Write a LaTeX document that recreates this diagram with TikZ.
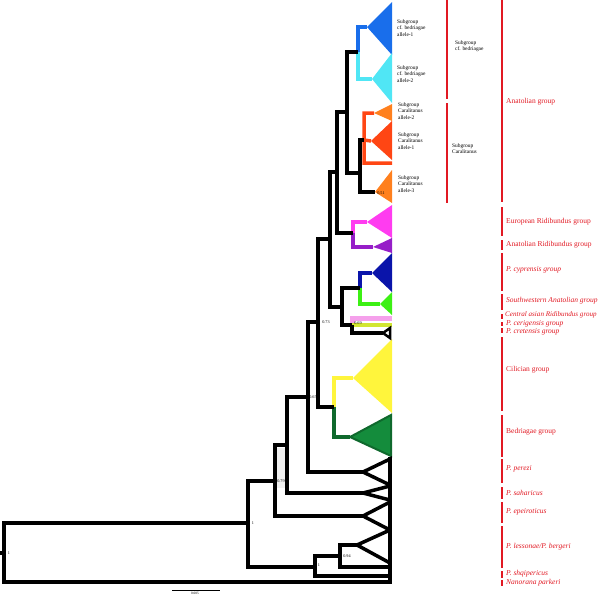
\documentclass[tikz,border=0pt]{standalone}
\usepackage{fontspec}
\setmainfont{Liberation Serif}
\definecolor{cblue}{RGB}{25,110,235}
\definecolor{ccyan}{RGB}{80,230,245}
\definecolor{corange}{RGB}{255,128,30}
\definecolor{cred}{RGB}{255,70,20}
\definecolor{cmag}{RGB}{255,60,240}
\definecolor{cpur}{RGB}{150,30,200}
\definecolor{cnavy}{RGB}{10,20,170}
\definecolor{cgreen}{RGB}{60,240,20}
\definecolor{cpink}{RGB}{245,160,235}
\definecolor{cyg}{RGB}{210,230,50}
\definecolor{cyel}{RGB}{255,245,60}
\definecolor{cdg}{RGB}{20,140,60}
\definecolor{cdgo}{RGB}{15,105,45}
\definecolor{grpred}{RGB}{225,25,35}
\tikzset{
 br/.style={line width=4pt, line join=miter},
 otri/.style={draw=black, line width=3.5pt, line join=miter, fill=white},
 grp/.style={anchor=west, text=grpred, font=\fontsize{7.5}{8}\selectfont, inner sep=0pt},
 sublab/.style={anchor=west, align=left, font=\fontsize{5.4}{6.3}\selectfont, inner sep=0pt},
 nlab/.style={font=\fontsize{4.2}{4.5}\selectfont, inner sep=0pt},
 gbar/.style={draw=grpred, line width=2.6pt},
}
\begin{document}
\begin{tikzpicture}[x=1pt,y=-1pt]
\useasboundingbox (0,0) rectangle (600,595);
% internal nodes
\coordinate (root) at (4,553);
\coordinate (nA) at (248,523);
\coordinate (nB) at (275,481);
\coordinate (nC) at (287,445);
\coordinate (nD) at (308,397);
\coordinate (nE) at (318,322);
\coordinate (nF) at (330,239);
\coordinate (nG) at (337,172);
\coordinate (nAn) at (347,112);
\coordinate (nBe) at (358,52);
\coordinate (nCa) at (360,173);
\coordinate (nR) at (364,140);
\coordinate (nRi) at (353,233);
\coordinate (nH) at (342,307);
\coordinate (nCy) at (360,288);
\coordinate (nP) at (352,325);
\coordinate (nCB) at (334,407);
\coordinate (nS) at (315,567);
\coordinate (nL) at (340,556);
% apices and tips
\coordinate (ablue) at (367,27);
\coordinate (acyan) at (372,79);
\coordinate (aor2) at (374,113);
\coordinate (aro1) at (371,141);
\coordinate (tr163) at (392,163);
\coordinate (aor3) at (375,192);
\coordinate (amag) at (367,222);
\coordinate (apur) at (373,247);
\coordinate (anavy) at (372,273);
\coordinate (agrn) at (380,304);
\coordinate (tpink) at (392,318);
\coordinate (tyg) at (392,325);
\coordinate (acret) at (383,333);
\coordinate (ayel) at (353,378);
\coordinate (adg) at (350,437);
\coordinate (aper) at (363,472);
\coordinate (asah) at (363,493);
\coordinate (aepe) at (363,516);
\coordinate (ales) at (357,545);
\coordinate (t567) at (392,567);
\coordinate (tshq) at (392,576);
\coordinate (tnan) at (392,582);
% faint grey patch
\fill[gray!12] (276,448) rectangle (286,488);
% coloured collapsed clades
\fill[cblue] (ablue) -- (392,2) -- (392,55) -- cycle;
\fill[ccyan] (acyan) -- (392,53) -- (392,103) -- cycle;
\fill[corange] (aor2) -- (392,104) -- (392,121) -- cycle;
\fill[cred] (aro1) -- (392,121) -- (392,160) -- cycle;
\fill[corange] (aor3) -- (392,170) -- (392,203) -- cycle;
\fill[cmag] (amag) -- (392,205) -- (392,238) -- cycle;
\fill[cpur] (apur) -- (392,238) -- (392,253) -- cycle;
\fill[cnavy] (anavy) -- (392,253) -- (392,292) -- cycle;
\fill[cgreen] (agrn) -- (392,292) -- (392,315) -- cycle;
\fill[cyel] (ayel) -- (392,339) -- (392,413) -- cycle;
\filldraw[fill=cdg, draw=cdgo, line width=2pt, line join=miter] (adg) -- (391,415) -- (391,456) -- cycle;
% coloured branches
\draw[br, cblue] (nBe) |- (ablue);
\draw[br, ccyan] (nBe) |- (acyan);
\draw[br, cred, line width=3.5pt] (nR) |- (aor2) (nR) -- (aro1) (nR) |- (tr163);
\draw[br, cmag] (nRi) |- (amag);
\draw[br, cpur] (nRi) |- (apur);
\draw[br, cnavy] (nCy) |- (anavy);
\draw[br, cgreen] (nCy) |- (agrn);
\draw[br, cpink, line width=5pt] (nP) |- (tpink);
\draw[br, cyg] (nP) -- (tyg);
\draw[br, cyel] (nCB) |- (ayel);
\draw[br, cdgo] (nCB) |- (adg);
% black branches
\draw[br] (root) |- (nA) (root) |- (tnan)
 (nA) |- (nB) (nA) |- (nS)
 (nB) |- (nC) (nB) |- (aepe)
 (nC) |- (nD) (nC) |- (asah)
 (nD) |- (nE) (nD) |- (aper)
 (nE) |- (nF) (nE) |- (nCB)
 (nF) |- (nG) (nF) |- (nH)
 (nG) |- (nAn) (nG) |- (nRi)
 (nAn) |- (nBe) (nAn) |- (nCa)
 (nCa) |- (nR) (nCa) |- (aor3)
 (nH) |- (nCy) (nH) |- (nP)
 (nP) |- (acret)
 (nS) |- (nL) (nS) |- (tshq)
 (nL) |- (ales) (nL) |- (t567);
% black outlined triangles
\draw[otri, line width=2.5pt] (acret) -- (390,328) -- (390,338) -- cycle;
\draw[otri] (aper) -- (390,459) -- (390,485) -- cycle;
\draw[otri] (asah) -- (390,486) -- (390,500) -- cycle;
\draw[otri] (aepe) -- (390,502) -- (390,530) -- cycle;
\draw[otri] (ales) -- (390,530) -- (390,563) -- cycle;
\draw[line width=4pt] (390,457) -- (390,580);
\fill (0,551) rectangle (3,555);
% node support values
\node[nlab] (s051) at (381,193) {0.51};
\node[nlab] (s069) at (358,323) {0.69};
\node[nlab] (s073) at (326,322) {0.73};
\node[nlab] (s065) at (313,397) {0.65};
\node[nlab] (s079) at (281,481) {0.79};
\node[nlab] (s1a) at (253,523) {1};
\node[nlab] (s094) at (347,556) {0.94};
\node[nlab] (s1b) at (319,565) {1};
\node[nlab] (s1r) at (9,553) {1};
% scale bar
\draw[line width=0.6pt] (172,590) coordinate (sb1) -- (220,590) coordinate (sb2);
\node[nlab, font=\fontsize{3.4}{3.6}\selectfont] (sbl) at (195,593.3) {0.005};
% subgroup labels
\node[sublab] (l1) at (397,28) {Subgroup\\cf. bedriagae\\allele-1};
\node[sublab] (l2) at (397,74) {Subgroup\\cf. bedriagae\\allele-2};
\node[sublab] (l3) at (398,111) {Subgroup\\Caralitanus\\allele-2};
\node[sublab] (l4) at (398,141) {Subgroup\\Caralitanus\\allele-1};
\node[sublab] (l5) at (398,184) {Subgroup\\Caralitanus\\allele-3};
\node[sublab] (l6) at (455,46.5) {Subgroup\\cf. bedriagae};
\node[sublab] (l7) at (452,148.5) {Subgroup\\Caralitanus};
% red bars
\draw[gbar] (447,0) -- (447,99);
\draw[gbar] (447,103) -- (447,203);
\foreach \a/\b in {0/202,207/236,240/250,253/291,294/310,314/319,322/326,328/333,337/411,415/457,459/483,487/499,502/523,526/568,571/578,580/586}
  \draw[gbar] (502,\a) -- (502,\b);
% group labels
\node[grp] (g1) at (506,102) {Anatolian group};
\node[grp] (g2) at (506,222) {European Ridibundus group};
\node[grp] (g3) at (506,245) {Anatolian Ridibundus group};
\node[grp] (g4) at (506,270) {\itshape P. cyprensis group};
\node[grp] (g5) at (506,301) {\itshape Southwestern Anatolian group};
\node[grp, font=\fontsize{7.1}{7.5}\selectfont] (g6) at (505,315) {\itshape Central asian Ridibundus group};
\node[grp] (g7) at (506,324) {\itshape P. cerigensis group};
\node[grp] (g8) at (506,332) {\itshape P. cretensis group};
\node[grp] (g9) at (506,370) {Cilician group};
\node[grp] (g10) at (506,432) {Bedriagae group};
\node[grp] (g11) at (506,469) {\itshape P. perezi};
\node[grp] (g12) at (506,493) {\itshape P. saharicus};
\node[grp] (g13) at (506,512) {\itshape P. epeiroticus};
\node[grp] (g14) at (506,547) {\itshape P. lessonae/P. bergeri};
\node[grp] (g15) at (506,574) {\itshape P. shqipericus};
\node[grp] (g16) at (506,583) {\itshape Nanorana parkeri};
\end{tikzpicture}
\end{document}
